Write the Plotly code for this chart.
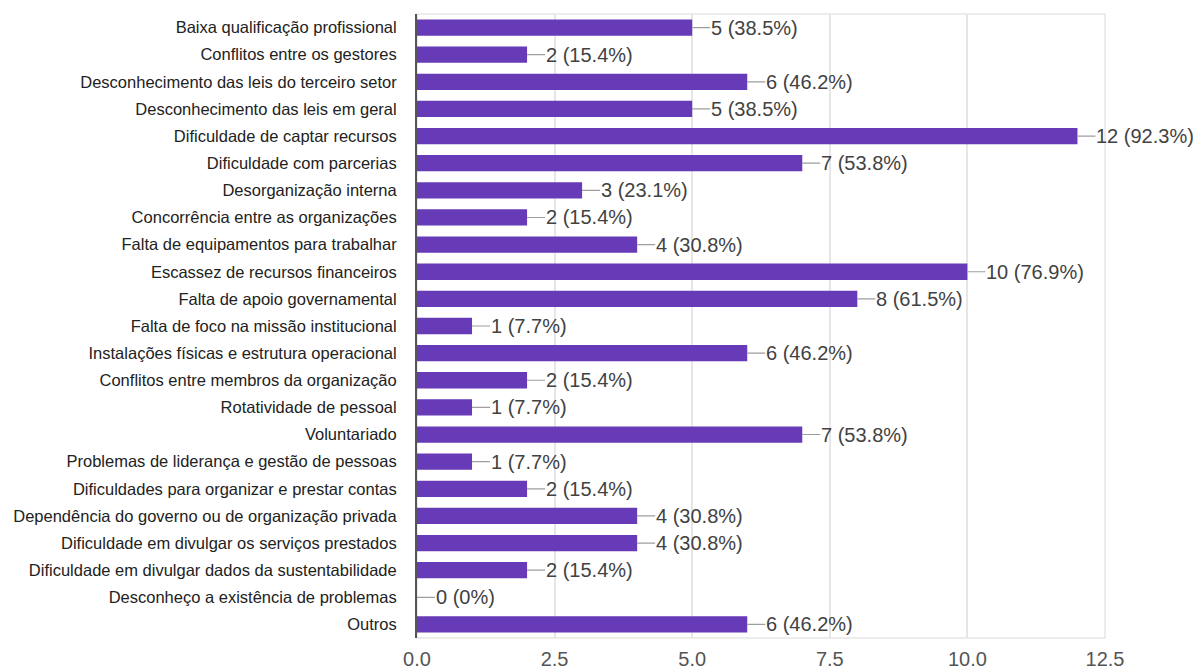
import plotly.graph_objects as go

categories = [
    "Baixa qualificação profissional",
    "Conflitos entre os gestores",
    "Desconhecimento das leis do terceiro setor",
    "Desconhecimento das leis em geral",
    "Dificuldade de captar recursos",
    "Dificuldade com parcerias",
    "Desorganização interna",
    "Concorrência entre as organizações",
    "Falta de equipamentos para trabalhar",
    "Escassez de recursos financeiros",
    "Falta de apoio governamental",
    "Falta de foco na missão institucional",
    "Instalações físicas e estrutura operacional",
    "Conflitos entre membros da organização",
    "Rotatividade de pessoal",
    "Voluntariado",
    "Problemas de liderança e gestão de pessoas",
    "Dificuldades para organizar e prestar contas",
    "Dependência do governo ou de organização privada",
    "Dificuldade em divulgar os serviços prestados",
    "Dificuldade em divulgar dados da sustentabilidade",
    "Desconheço a existência de problemas",
    "Outros",
]
counts = [5, 2, 6, 5, 12, 7, 3, 2, 4, 10, 8, 1, 6, 2, 1, 7, 1, 2, 4, 4, 2, 0, 6]
percents = ["38.5%", "15.4%", "46.2%", "38.5%", "92.3%", "53.8%", "23.1%", "15.4%",
            "30.8%", "76.9%", "61.5%", "7.7%", "46.2%", "15.4%", "7.7%", "53.8%",
            "7.7%", "15.4%", "30.8%", "30.8%", "15.4%", "0%", "46.2%"]
x_ticks = [0, 2.5, 5, 7.5, 10, 12.5]
x_tick_labels = ["0.0", "2.5", "5.0", "7.5", "10.0", "12.5"]

fig = go.Figure()
fig.add_trace(go.Bar(
    x=counts, y=categories, orientation="h",
    marker=dict(color="#673ab7", line=dict(width=0)),
    width=0.6,
))

for c, v, p in zip(categories, counts, percents):
    fig.add_annotation(
        x=v, y=c, xref="x", yref="y",
        text=f"{v} ({p})",
        showarrow=True, arrowhead=0, arrowwidth=1.2, arrowcolor="#9e9e9e",
        ax=18, ay=0, axref="pixel", ayref="pixel",
        xanchor="left", yanchor="middle",
        borderpad=0,
        font=dict(family="Liberation Sans, Arial", size=20, color="#424242"),
    )

fig.add_shape(type="rect", xref="x domain", yref="y domain", x0=0, x1=1, y0=0, y1=1,
              line=dict(color="#e6e6e6", width=1.5), layer="below")

fig.update_layout(
    width=1195, height=663,
    margin=dict(l=409, r=98, t=6, b=33),
    paper_bgcolor="white", plot_bgcolor="white",
    showlegend=False,
    bargap=0.4,
    font=dict(family="Liberation Sans, Arial"),
)
fig.update_xaxes(
    range=[0, 12.5], tickvals=x_ticks, ticktext=x_tick_labels,
    showgrid=True, gridcolor="#e6e6e6", gridwidth=1.5,
    zeroline=False, showline=False, automargin=False,
    ticks="outside", ticklen=3, tickcolor="rgba(0,0,0,0)",
    tickfont=dict(family="Liberation Sans, Arial", size=20, color="#555555"),
)
fig.update_yaxes(
    autorange="reversed", type="category",
    showgrid=False, zeroline=False, automargin=False,
    showline=True, linecolor="#555555", linewidth=2,
    ticks="outside", ticklen=15, tickcolor="rgba(0,0,0,0)",
    tickfont=dict(family="Liberation Sans, Arial", size=16.5, color="#222222"),
)

fig.write_html("out.html")
